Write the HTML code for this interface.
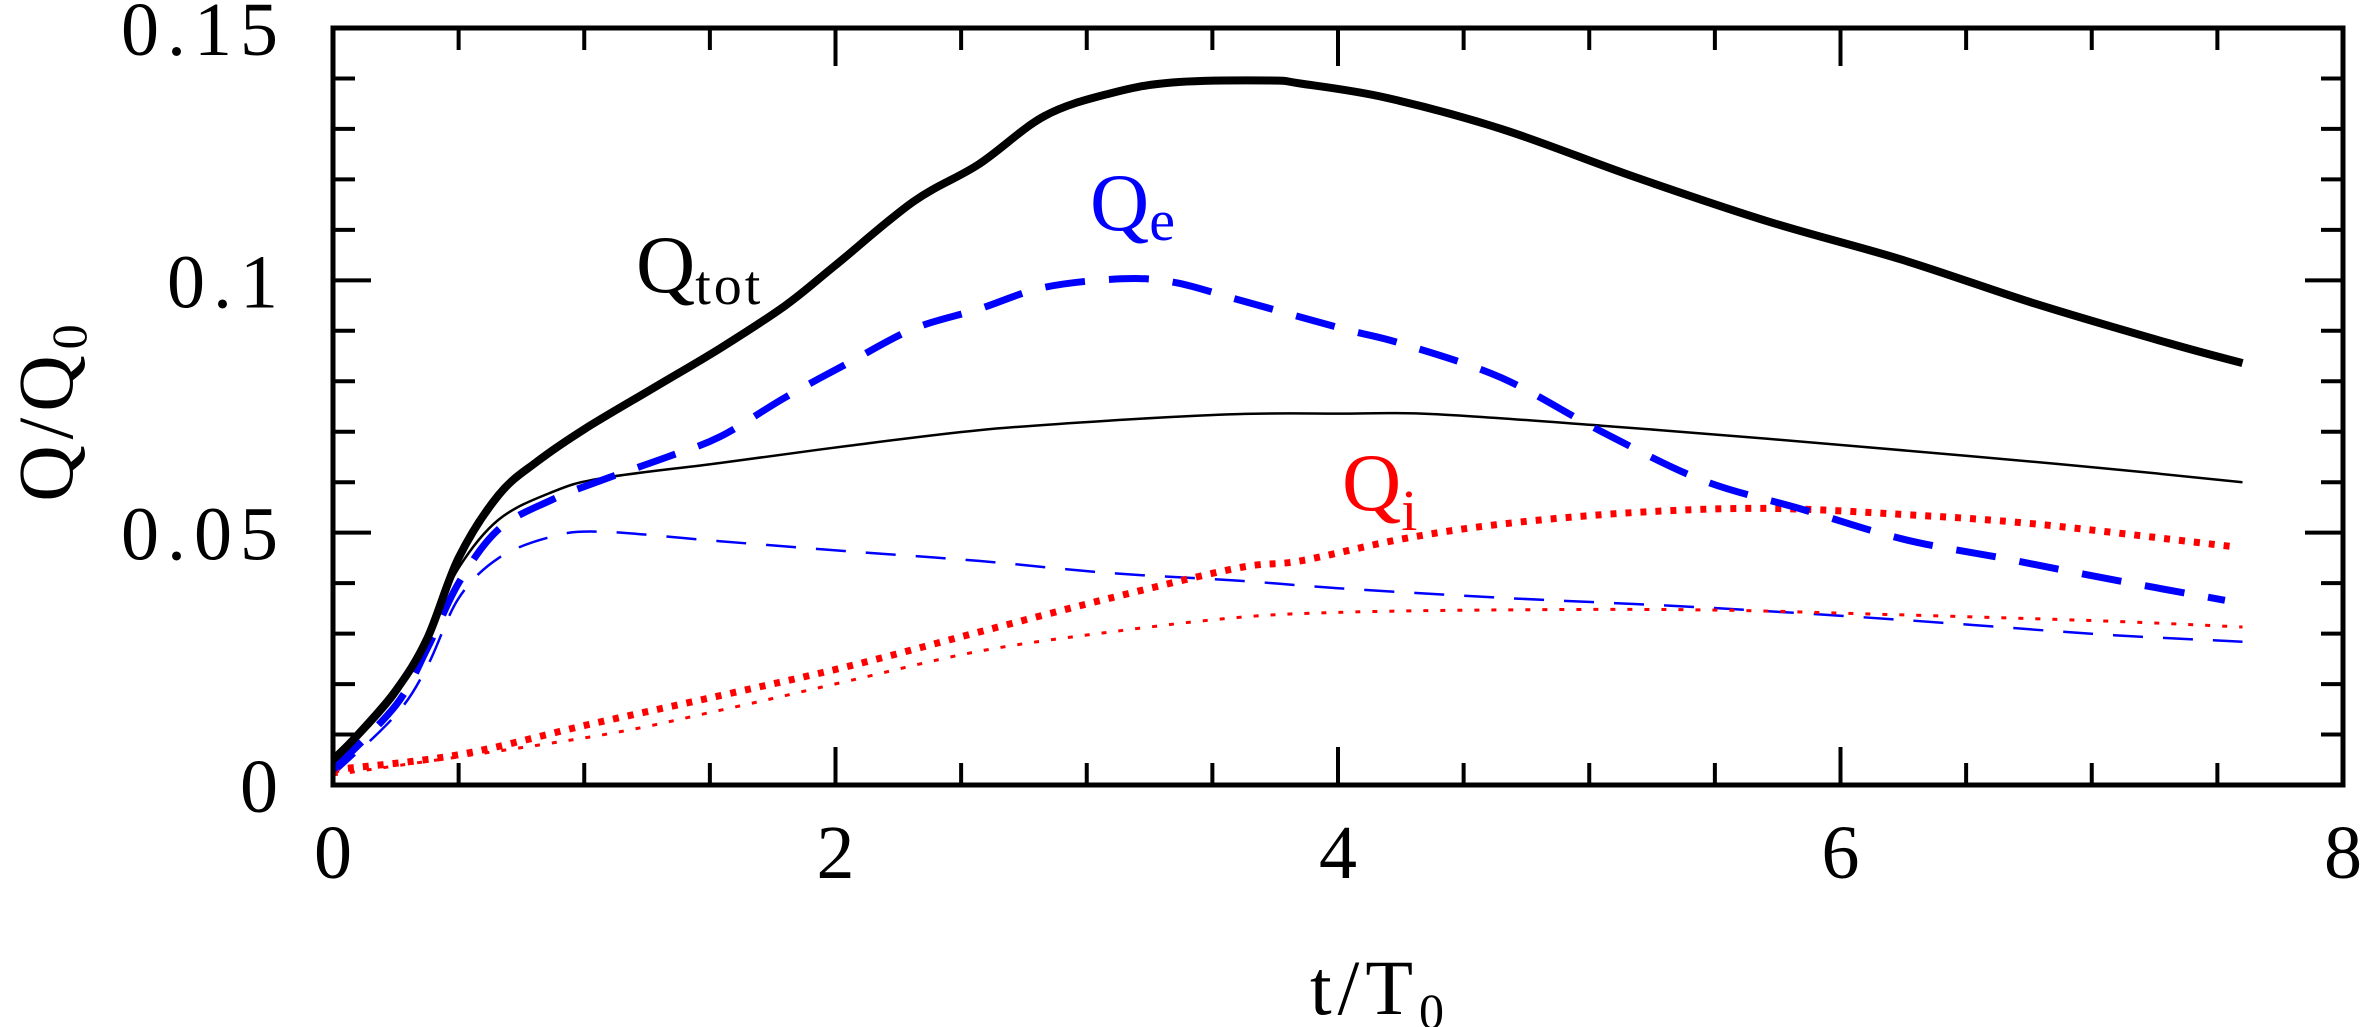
<!DOCTYPE html>
<html><head><meta charset="utf-8"><style>
html,body{margin:0;padding:0;background:#fff;}
svg{display:block;}
text{font-family:"Liberation Serif",serif;}
</style></head><body>
<svg id="chart" width="2363" height="1027" viewBox="0 0 2363 1027" xmlns="http://www.w3.org/2000/svg">
<g id="ticks"></g>
<g id="series"></g>
<rect x="333" y="28" width="2010" height="757" fill="none" stroke="#000" stroke-width="5"/>
<g id="labels"></g>
<text transform="translate(72,410) rotate(-90)" text-anchor="middle" font-size="78" letter-spacing="6">Q/Q<tspan font-size="50" dy="14">0</tspan></text>
<text x="1380" y="1014" text-anchor="middle" font-size="78" letter-spacing="6">t/T<tspan font-size="50" dy="14">0</tspan></text>
<text x="636" y="292" font-size="82" fill="#000">Q<tspan font-size="56" dy="12" letter-spacing="3">tot</tspan></text>
<text x="1090" y="230" font-size="82" fill="#0000ff">Q<tspan font-size="58" dy="10">e</tspan></text>
<text x="1342" y="510" font-size="82" fill="#ff0000">Q<tspan font-size="58" dy="20">i</tspan></text>
</svg>
<script>
const xTicks=[0,2,4,6,8];
const yTicks=[0,0.05,0.1,0.15];
const yTickLabels=["0","0.05","0.1","0.15"];
const qtotT=[0,0.1,0.25,0.375,0.5,0.66,0.81,1,1.28,1.54,1.8,2,2.31,2.57,2.83,3.09,3.34,3.73,3.85,4.19,4.65,5.18,5.71,6.25,6.78,7.31,7.6];
const qtotV=[0.005,0.010,0.0187,0.029,0.045,0.0575,0.064,0.0705,0.0788,0.0865,0.095,0.103,0.1156,0.123,0.1325,0.137,0.1392,0.1396,0.1390,0.1362,0.130,0.1205,0.1117,0.104,0.0953,0.0875,0.0836];
const thinT=[0,0.25,0.375,0.5,0.66,0.87,1.07,1.54,2.05,2.57,3.09,3.6,4.0,4.38,5.05,5.71,6.51,7.04,7.6];
const thinV=[0.004,0.0177,0.030,0.043,0.0526,0.058,0.0608,0.0638,0.0672,0.0703,0.0722,0.0735,0.0736,0.0735,0.0712,0.0686,0.0652,0.0628,0.060];
const qeT=[0,0.25,0.375,0.5,0.66,0.87,1.07,1.33,1.54,1.8,2.05,2.31,2.57,2.83,3.14,3.35,3.6,4.02,4.25,4.65,5.05,5.45,5.85,6.25,6.65,7.05,7.53];
const qeV=[0.003,0.0158,0.027,0.040,0.0507,0.0565,0.0604,0.065,0.069,0.0768,0.0836,0.0904,0.0943,0.0986,0.1003,0.0996,0.0962,0.0904,0.0875,0.0807,0.070,0.0604,0.0546,0.0487,0.0449,0.041,0.0366];
const qe2T=[0,0.25,0.375,0.5,0.66,0.87,1.07,1.54,2.05,2.57,3.09,3.6,4.0,4.65,5.45,6.25,7.05,7.6];
const qe2V=[0.002,0.0139,0.0235,0.037,0.045,0.0492,0.0502,0.0483,0.0463,0.0444,0.042,0.0405,0.039,0.0371,0.0352,0.0327,0.0298,0.0284];
const qiT=[0,0.5,1.02,1.54,2.05,2.57,3.09,3.6,3.85,4.25,4.65,5.18,5.71,6.25,6.78,7.55];
const qiV=[0.003,0.006,0.012,0.0177,0.0235,0.0303,0.037,0.043,0.0444,0.0487,0.0517,0.054,0.0548,0.0536,0.0517,0.0473];
const qi2T=[0,1.02,1.54,2.05,2.57,3.09,3.6,4.0,4.65,5.45,6.25,7.05,7.6];
const qi2V=[0.002,0.0095,0.0148,0.0206,0.0265,0.0303,0.0332,0.0342,0.0347,0.0347,0.0337,0.0325,0.0313];

const NS="http://www.w3.org/2000/svg";
const X0=333,X1=2343,Y0=785,Y1=28;
const sx=t=>X0+(t/8)*(X1-X0);
const sy=v=>Y0-(v/0.15)*(Y0-Y1);
const ticksG=document.getElementById('ticks');
const labelsG=document.getElementById('labels');
const seriesG=document.getElementById('series');
function line(x1,y1,x2,y2){const l=document.createElementNS(NS,'line');
l.setAttribute('x1',x1);l.setAttribute('y1',y1);l.setAttribute('x2',x2);l.setAttribute('y2',y2);
l.setAttribute('stroke','#000');l.setAttribute('stroke-width','4');


ticksG.appendChild(l);}
for(let i=0;i<=16;i++){const t=i*0.5;const x=sx(t);const len=(i%4===0)?38:22;
 line(x,Y0,x,Y0-len);line(x,Y1,x,Y1+len);}
for(let i=0;i<=15;i++){const v=i*0.01;const y=sy(v);const len=(i%5===0)?38:22;
 line(X0,y,X0+len,y);line(X1,y,X1-len,y);}
xTicks.forEach(t=>{const tx=document.createElementNS(NS,'text');
 tx.setAttribute('x',sx(t));tx.setAttribute('y',878);tx.setAttribute('text-anchor','middle');tx.setAttribute('font-size','76');
 tx.textContent=String(t);
 
 
 labelsG.appendChild(tx);});
yTicks.forEach((v,i)=>{const tx=document.createElementNS(NS,'text');
 tx.setAttribute('x',286);tx.setAttribute('y',sy(v)+27);tx.setAttribute('text-anchor','end');tx.setAttribute('font-size','76');
 tx.setAttribute('letter-spacing','8');
 tx.textContent=yTickLabels[i];
 
 
 labelsG.appendChild(tx);});
function smoothPath(P){
 let d='M'+P[0][0].toFixed(1)+','+P[0][1].toFixed(1);
 for(let i=0;i<P.length-1;i++){
  const p0=P[Math.max(0,i-1)],p1=P[i],p2=P[i+1],p3=P[Math.min(P.length-1,i+2)];
  const c1x=p1[0]+(p2[0]-p0[0])/6,c1y=p1[1]+(p2[1]-p0[1])/6;
  const c2x=p2[0]-(p3[0]-p1[0])/6,c2y=p2[1]-(p3[1]-p1[1])/6;
  d+=' C'+c1x.toFixed(1)+','+c1y.toFixed(1)+' '+c2x.toFixed(1)+','+c2y.toFixed(1)+' '+p2[0].toFixed(1)+','+p2[1].toFixed(1);
 }
 return d;}
function series(T,V,color,w,dash,name){
 const p=document.createElementNS(NS,'path');
 p.setAttribute('d',smoothPath(T.map((t,i)=>[sx(t),sy(V[i])])));
 p.setAttribute('fill','none');p.setAttribute('stroke',color);p.setAttribute('stroke-width',w);
 p.setAttribute('stroke-linejoin','round');
 if(dash)p.setAttribute('stroke-dasharray',dash);
 
 
 seriesG.appendChild(p);}
series(thinT,thinV,'#000',2.5,null,'q-tot-thin-line');
series(qe2T,qe2V,'#0000ff',2.5,'30 20','q-e-thin-line');
series(qi2T,qi2V,'#ff0000',3,'5 12','q-i-thin-line');
series(qiT,qiV,'#ff0000',7,'6 9','q-i-line');
series(qeT,qeV,'#0000ff',7,'40 24','q-e-line');
series(qtotT,qtotV,'#000',8,null,'q-tot-line');
</script>
</body></html>
